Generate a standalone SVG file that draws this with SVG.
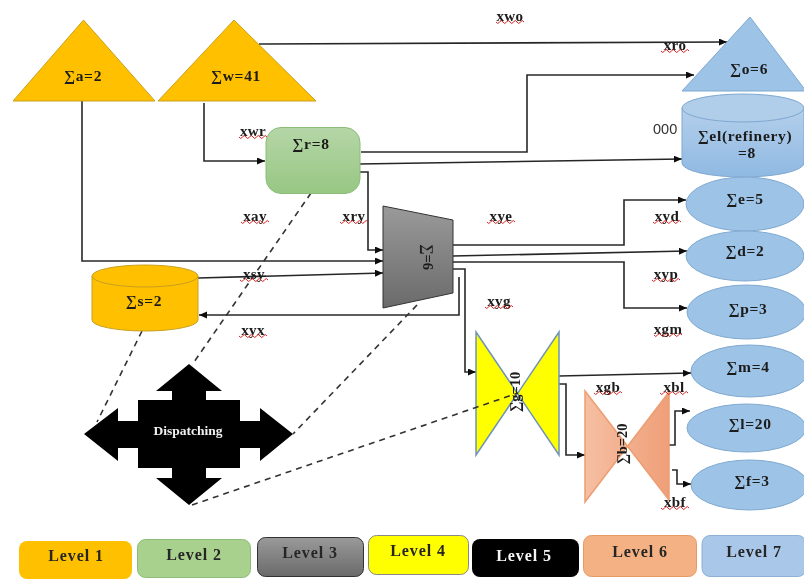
<svg xmlns="http://www.w3.org/2000/svg" width="804" height="579" viewBox="0 0 804 579">
<style>
.t{font-family:"Liberation Serif",serif;font-weight:bold;font-size:15.500px;letter-spacing:.7px;fill:#1a1a1a;text-anchor:middle}
.r{font-family:"Liberation Serif",serif;font-weight:bold;font-size:14.500px;fill:#1a1a1a;text-anchor:middle}
.l{font-family:"Liberation Serif",serif;font-weight:bold;font-size:15px;letter-spacing:.4px;fill:#1a1a1a;text-anchor:middle}
.g{font-family:"Liberation Serif",serif;font-weight:bold;font-size:16px;letter-spacing:.9px;fill:#262626;text-anchor:middle}
.c{fill:none;stroke:#262626;stroke-width:1.600;marker-end:url(#a)}
.d{fill:none;stroke:#333;stroke-width:1.600;stroke-dasharray:6 5}
.w{fill:none;stroke:#d82020;stroke-width:1}
.or{fill:#ffc000;stroke:#c8a020;stroke-width:1}
.bl{fill:#9dc3e6;stroke:#7fa8d0;stroke-width:1}
</style>
<defs>
<marker id="a" markerWidth="9" markerHeight="8" refX="8" refY="3.500" orient="auto" markerUnits="userSpaceOnUse"><path d="M0 0L8 3.500L0 7z" fill="#111"/></marker>
<linearGradient id="gg" x1="0" y1="0" x2="0" y2="1"><stop offset="0" stop-color="#b5d6a7"/><stop offset="1" stop-color="#97c783"/></linearGradient>
<linearGradient id="gy" x1="0" y1="0" x2="0" y2="1"><stop offset="0" stop-color="#9a9a9a"/><stop offset="1" stop-color="#6a6a6a"/></linearGradient>
<linearGradient id="gb" x1="0" y1="0" x2="0" y2="1"><stop offset="0" stop-color="#b4cfeb"/><stop offset="1" stop-color="#8fb9e2"/></linearGradient>
<linearGradient id="gs" x1="0" y1="0" x2="1" y2="0"><stop offset="0" stop-color="#f6bfa3"/><stop offset="1" stop-color="#ef9f78"/></linearGradient>
<path id="wave" d="M0 0q1.750 3 3.500 0t3.500 0t3.500 0t3.500 0t3.500 0t3.500 0t3.500 0t3.500 0" class="w"/>
<filter id="soft" x="0" y="0" width="100%" height="100%"><feGaussianBlur stdDeviation="0.4"/></filter>
</defs>
<rect width="804" height="579" fill="#fff"/>
<g filter="url(#soft)">
<g id="connectors">
<path class="c" d="M259 44L727 42"/>
<path class="c" d="M361 152H527V75H694"/>
<path class="c" d="M359 164L682 159"/>
<path class="c" d="M358 172H368V250H383"/>
<path class="c" d="M82 101V261H383"/>
<path class="c" d="M198 278L383 273"/>
<path class="c" d="M459 277V315H199"/>
<path class="c" d="M204 103V161H265"/>
<path class="c" d="M453 245H624V200H686"/>
<path class="c" d="M453 256L687 251"/>
<path class="c" d="M453 262H624V308H687"/>
<path class="c" d="M453 269H465V372H476"/>
<path class="c" d="M559 376L691 373"/>
<path class="c" d="M559 384H566V455H585"/>
<path class="c" d="M669 445H675V411H690"/>
<path class="c" d="M672 470H677V484H691"/>
<path class="d" d="M311 193L192 365"/>
<path class="d" d="M142 331L97 422"/>
<path class="d" d="M417 305L293 434"/>
</g>
<g id="node-a"><path class="or" d="M83.500 20L155 101H13z"/><text class="t" x="83" y="81">∑a=2</text></g>
<g id="node-w"><path class="or" d="M234 20L316 101H158z"/><text class="t" x="236" y="81">∑w=41</text></g>
<g id="node-r"><rect x="266" y="127.500" width="94" height="66" rx="15" fill="url(#gg)" stroke="#8cbc78"/><text class="t" x="311" y="149">∑r=8</text></g>
<g id="node-y"><path d="M383 206L453 220V293L383 308z" fill="url(#gy)" stroke="#333"/><text class="r" transform="translate(428 257) rotate(90)" y="5">∑=6</text></g>
<g id="node-s"><path class="or" d="M92 276V320A53 11 0 0 0 198 320V276z"/><ellipse class="or" cx="145" cy="276" rx="53" ry="11"/><text class="t" x="144" y="306">∑s=2</text></g>
<g id="node-o"><path d="M750 17L806 91H682z" fill="#9dc3e6" stroke="#7fa8d0"/><text class="t" x="749" y="74">∑o=6</text></g>
<g id="node-el"><path d="M682 108V163A61 14 0 0 0 804 163V108z" fill="url(#gb)" stroke="#7fa8d0"/><ellipse cx="743" cy="108" rx="61" ry="14" fill="#b0cdea" stroke="#7fa8d0"/><text class="t" x="745" y="141">∑el(refinery)</text><text class="t" x="747" y="158">=8</text></g>
<g id="node-e"><ellipse class="bl" cx="745" cy="204" rx="59" ry="27"/><text class="t" x="745" y="204">∑e=5</text></g>
<g id="node-d"><ellipse class="bl" cx="745" cy="256" rx="59" ry="25"/><text class="t" x="745" y="256">∑d=2</text></g>
<g id="node-p"><ellipse class="bl" cx="746.500" cy="312" rx="59.500" ry="27"/><text class="t" x="748" y="314">∑p=3</text></g>
<g id="node-m"><ellipse class="bl" cx="749.500" cy="371" rx="58.500" ry="26"/><text class="t" x="748" y="372">∑m=4</text></g>
<g id="node-l"><ellipse class="bl" cx="746.500" cy="428" rx="59.500" ry="24"/><text class="t" x="750" y="429">∑l=20</text></g>
<g id="node-f"><ellipse class="bl" cx="749.500" cy="485" rx="58.500" ry="25"/><text class="t" x="752" y="486">∑f=3</text></g>
<g id="node-g"><path d="M476 332L559 455V332L476 455z" fill="#ffff00" stroke="#6f94b8" stroke-width="1.500"/><text class="r" transform="translate(515 392) rotate(-90)" y="5">∑g=10</text></g>
<g id="node-b"><path d="M585 391L669 500V392L585 502z" fill="url(#gs)" stroke="#ed9d70" stroke-width="1.500"/><text class="r" transform="translate(622 444) rotate(-90)" y="5">∑b=20</text></g>
<g id="node-dispatching"><path d="M189 364L222 391H206V400H240V421H260V408L293 434L260 461V448H240V468H206V478H222L189 505L156 478H172V468H138V448H118V461L84 434L118 408V421H138V400H172V391H156z" fill="#000"/><text x="188" y="435" font-family="Liberation Serif,serif" font-weight="bold" font-size="13.500" fill="#f0f0f0" text-anchor="middle">Dispatching</text></g>
<path class="d" d="M192 505L518 393"/>
<g id="labels">
<text class="l" x="510" y="21">xwo</text><use href="#wave" x="496" y="22"/>
<text class="l" x="675" y="50">xro</text><use href="#wave" x="661" y="51"/>
<text font-family="Liberation Sans,sans-serif" font-size="14.500" fill="#333" x="653" y="134">000</text>
<text class="l" x="253" y="136">xwr</text><use href="#wave" x="239" y="137"/>
<text class="l" x="255" y="221">xay</text><use href="#wave" x="241" y="222"/>
<text class="l" x="354" y="221">xry</text><use href="#wave" x="340" y="222"/>
<text class="l" x="254" y="279">xsy</text><use href="#wave" x="240" y="280"/>
<text class="l" x="253" y="335">xyx</text><use href="#wave" x="239" y="336"/>
<text class="l" x="501" y="221">xye</text><use href="#wave" x="487" y="222"/>
<text class="l" x="667" y="221">xyd</text><use href="#wave" x="653" y="222"/>
<text class="l" x="666" y="279">xyp</text><use href="#wave" x="652" y="280"/>
<text class="l" x="499" y="306">xyg</text><use href="#wave" x="485" y="307"/>
<text class="l" x="668" y="334">xgm</text><use href="#wave" x="654" y="335"/>
<text class="l" x="608" y="392">xgb</text><use href="#wave" x="594" y="393"/>
<text class="l" x="674" y="392">xbl</text><use href="#wave" x="660" y="393"/>
<text class="l" x="675" y="507">xbf</text><use href="#wave" x="661" y="508"/>
</g>
<g id="legend-1"><rect x="19" y="541" width="113" height="38" rx="8" fill="#ffc000"/><text class="g" x="76" y="561">Level 1</text></g>
<g id="legend-2"><rect x="137.500" y="539.500" width="113" height="38" rx="8" fill="#a9d18e" stroke="#8cbc78"/><text class="g" x="194" y="560">Level 2</text></g>
<g id="legend-3"><rect x="257.500" y="537.500" width="106" height="39" rx="8" fill="url(#gy)" stroke="#333"/><text class="g" x="310" y="558">Level 3</text></g>
<g id="legend-4"><rect x="368.500" y="535.500" width="100" height="39" rx="8" fill="#ffff00" stroke="#888"/><text class="g" x="418" y="556">Level 4</text></g>
<g id="legend-5"><rect x="472" y="539" width="107" height="38" rx="8" fill="#000"/><text class="g" x="524" y="561" style="fill:#f5f5f5">Level 5</text></g>
<g id="legend-6"><rect x="583.500" y="535.500" width="113" height="41" rx="8" fill="#f4b183" stroke="#e59a68"/><text class="g" x="640" y="557">Level 6</text></g>
<g id="legend-7"><rect x="702" y="535.500" width="104" height="41" rx="8" fill="#a9c7e8" stroke="#8fb0d5"/><text class="g" x="754" y="557">Level 7</text></g>
</g>
</svg>
